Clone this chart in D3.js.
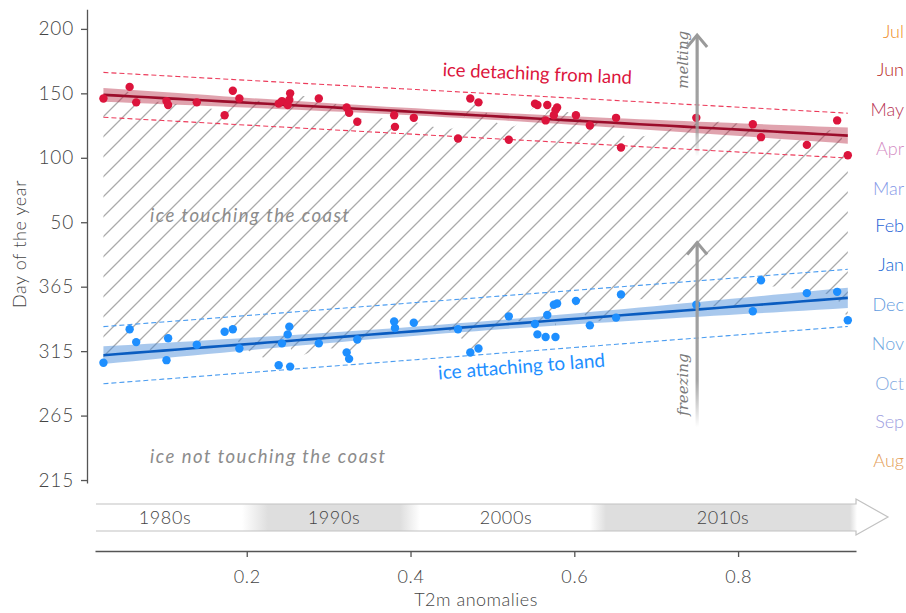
<!DOCTYPE html>
<html><head><meta charset="utf-8">
<script src="https://cdn.jsdelivr.net/npm/d3@7"></script>
<style>
html,body{margin:0;padding:0;background:#fff;}
svg{display:block;font-family:"Lato Light",Lato,"Open Sans",sans-serif;}
</style></head><body>
<svg id="chart" width="906" height="613"></svg>
<script>
// ---------------- data ----------------
const anomaly = [0.025,0.057,0.065,0.102,0.104,0.139,0.173,0.183,0.191,0.239,0.243,0.250,0.252,0.253,0.288,0.322,0.325,0.335,0.380,0.381,0.404,0.458,0.473,0.483,0.520,0.552,0.555,0.565,0.567,0.575,0.577,0.579,0.602,0.619,0.651,0.657,0.749,0.818,0.828,0.884,0.921,0.934];
const detachDay = [146,155,143,144,141,143,133,152,146,142,144,141,145,150,146,139,135,128,133,124,131,115,146,143,114,142,141,129,141,133,137,139,133,125,131,108,131,126,116,110,129,102];
const attachDay = [306,332,322,308,325,320,330,332,317,304,321,328,334,303,321,314,309,324,338,333,337,332,314,317,342,336,328,326,343,351,326,352,354,335,341,359,351,346,5,360,361,339];
const yTickValues = [215,265,315,365,415,465,515,565];
const xTickValues = [0.2,0.4,0.6,0.8];
const monthNames = ["Aug","Sep","Oct","Nov","Dec","Jan","Feb","Mar","Apr","May","Jun","Jul"];
const monthMidDay = [228,258,288,319,349,380,410,439,470,500,531,561];
const monthColors = ["#e39d58","#9e9ee0","#7fa8e0","#6ea6e0","#5f9be0","#1565d4","#1f62d6","#8499e8","#d48cc4","#b83454","#b8261c","#ee8a1e"];
const decadeLabels = ["1980s","1990s","2000s","2010s"];

// ---------------- helpers ----------------
const ext = d => d < 200 ? d + 365 : d;   // continuous day axis across new year
const svg = d3.select("#chart");
const x = d3.scaleLinear().domain([0.0147, 0.944]).range([95, 856]);
const y = d3.scaleLinear().domain([212.7, 580.2]).range([483, 9.3]);

const RED = "#dc143c", RED_D = "#9b0d2b", BLUE = "#1e8fff", BLUE_D = "#0a5cc0";

function fit(xs, ys){
  const n = xs.length, mx = d3.mean(xs), my = d3.mean(ys);
  let sxx=0, sxy=0; xs.forEach((v,i)=>{sxx+=(v-mx)**2; sxy+=(v-mx)*(ys[i]-my);});
  const b = sxy/sxx, a = my - b*mx;
  const sse = d3.sum(xs, (v,i)=> (ys[i]-(a+b*v))**2);
  const s = Math.sqrt(sse/(n-2));
  return {a,b,s,n,mx,sxx};
}
const red = fit(anomaly, detachDay.map(ext));
const blue = fit(anomaly, attachDay.map(ext));
const xr = d3.extent(anomaly);
const xs = d3.range(0,51).map(i => xr[0] + (xr[1]-xr[0])*i/50);
const T = 2.021;

const defs = svg.append("defs");
const pat = defs.append("pattern").attr("id","hatch").attr("patternUnits","userSpaceOnUse")
  .attr("width",20).attr("height",20);
pat.append("path").attr("d","M-5,5 L5,-5 M0,20 L20,0 M15,25 L25,15")
  .attr("stroke","#ababab").attr("stroke-width",1.3);

const order = d3.range(anomaly.length).sort((i,j)=>anomaly[i]-anomaly[j]);
svg.append("path")
  .datum(order)
  .attr("fill","url(#hatch)")
  .attr("d", d3.area().curve(d3.curveBasis)
      .x(i => x(anomaly[i]))
      .y0(i => y(ext(attachDay[i])))
      .y1(i => y(ext(detachDay[i]))));

function drawFit(f, colLine, colDash, bandFill, bandOpacity){
  const pred = v => f.a + f.b*v;
  const se = v => f.s*Math.sqrt(1/f.n + (v-f.mx)**2/f.sxx);
  svg.append("path").datum(xs)
    .attr("fill",bandFill).attr("opacity",bandOpacity)
    .attr("d", d3.area().x(v=>x(v)).y0(v=>y(pred(v)-T*se(v))).y1(v=>y(pred(v)+T*se(v))));
  [-1,1].forEach(sg=>{
    svg.append("path").datum(xs)
      .attr("fill","none").attr("stroke",colDash).attr("stroke-width",1.1)
      .attr("stroke-dasharray","5,3")
      .attr("d", d3.line().x(v=>x(v)).y(v=>y(pred(v)+sg*1.96*f.s)));
  });
  svg.append("path").datum(xs)
    .attr("fill","none").attr("stroke",colLine).attr("stroke-width",2.6)
    .attr("d", d3.line().x(v=>x(v)).y(v=>y(pred(v))));
}
drawFit(red, RED_D, "#ec3a5a", "#b4233f", 0.42);
drawFit(blue, BLUE_D, "#4a9cf0", "#3f86d6", 0.45);

svg.append("g").selectAll("circle").data(anomaly).join("circle")
  .attr("cx", d=>x(d)).attr("cy",(d,i)=>y(ext(detachDay[i]))).attr("r",4.2).attr("fill",RED);
svg.append("g").selectAll("circle").data(anomaly).join("circle")
  .attr("cx", d=>x(d)).attr("cy",(d,i)=>y(ext(attachDay[i]))).attr("r",4.2).attr("fill",BLUE);

// axes
const gy = svg.append("g").attr("transform","translate(87,0)")
  .call(d3.axisLeft(y).tickValues(yTickValues).tickFormat(d=> d>365? d-365 : d).tickSize(6).tickSizeOuter(0).tickPadding(7))
  .attr("font-family",null).attr("font-size",null);
gy.select(".domain").attr("stroke","#555").attr("stroke-width",1.3);
gy.selectAll(".tick line").attr("stroke","#555").attr("stroke-width",1.3);
gy.selectAll(".tick text").attr("fill","#444").attr("font-size",19).attr("letter-spacing",0.8);

const gx = svg.append("g").attr("transform","translate(0,551)")
  .call(d3.axisBottom(x).tickValues(xTickValues).tickFormat(d3.format(".1f")).tickSize(6).tickSizeOuter(0).tickPadding(13))
  .attr("font-family",null).attr("font-size",null);
gx.select(".domain").attr("stroke","#555").attr("stroke-width",1.3);
gx.selectAll(".tick line").attr("stroke","#555").attr("stroke-width",1.3);
gx.selectAll(".tick text").attr("fill","#444").attr("font-size",18).attr("letter-spacing",0.6);

svg.append("text").attr("transform","translate(26,244) rotate(-90)").attr("text-anchor","middle")
  .attr("font-size",18).attr("letter-spacing",0.6).attr("fill","#444").text("Day of the year");
svg.append("text").attr("x",476).attr("y",606).attr("text-anchor","middle")
  .attr("font-size",18).attr("letter-spacing",0.5).attr("fill","#444").text("T2m anomalies");

// month labels
svg.append("g").selectAll("text").data(monthNames).join("text")
  .attr("x",904).attr("y",(d,i)=>y(monthMidDay[i])-2).attr("dy","0.32em").attr("text-anchor","end")
  .attr("font-size",18).attr("fill",(d,i)=>monthColors[i]).text(d=>d);

// region labels
svg.append("text").attr("x",150).attr("y",222).attr("font-size",18.5).attr("font-style","italic")
  .attr("font-family","Lato").attr("fill","#8c8c8c").attr("letter-spacing",1.5).text("ice touching the coast");
svg.append("text").attr("x",150).attr("y",463).attr("font-size",18.5).attr("font-style","italic")
  .attr("font-family","Lato").attr("fill","#8c8c8c").attr("letter-spacing",1.5).text("ice not touching the coast");
svg.append("text").attr("transform","translate(537,80) rotate(2.4)").attr("text-anchor","middle")
  .attr("font-size",18.5).attr("font-family","Lato").attr("fill",RED).text("ice detaching from land");
svg.append("text").attr("transform","translate(522,373) rotate(-4.4)").attr("text-anchor","middle")
  .attr("font-size",19).attr("font-family","Lato").attr("fill",BLUE).text("ice attaching to land");

// melting / freezing arrows
function grayArrow(id, xv, dTip, dBot, label, labelDay){
  const xp = x(xv), yt = y(dTip), yb = y(dBot);
  const g = defs.append("linearGradient").attr("id",id).attr("gradientUnits","userSpaceOnUse")
    .attr("x1",0).attr("x2",0).attr("y1",yt).attr("y2",yb);
  g.append("stop").attr("offset",0).attr("stop-color","#9a9a9a").attr("stop-opacity",1);
  g.append("stop").attr("offset",0.75).attr("stop-color","#9a9a9a").attr("stop-opacity",0.9);
  g.append("stop").attr("offset",1).attr("stop-color","#9a9a9a").attr("stop-opacity",0);
  svg.append("rect").attr("x",xp-1.6).attr("y",yt+1).attr("width",3.2).attr("height",yb-yt-1).attr("fill",`url(#${id})`);
  svg.append("path").attr("d",`M${xp-10},${yt+13} L${xp},${yt+1} L${xp+10},${yt+13}`)
    .attr("fill","none").attr("stroke","#9a9a9a").attr("stroke-width",3).attr("stroke-linejoin","miter");
  svg.append("text").attr("transform",`translate(${xp-9},${y(labelDay)}) rotate(-90)`).attr("text-anchor","middle")
    .attr("font-size",15).attr("font-style","italic").attr("font-family","DejaVu Serif")
    .attr("fill","#7a7a7a").text(label);
}
grayArrow("gMelt", 0.75, 561, 466, "melting", 541);
grayArrow("gFreeze", 0.75, 400, 256, "freezing", 289);

// decade arrow
const dg = defs.append("linearGradient").attr("id","decades").attr("gradientUnits","userSpaceOnUse")
  .attr("x1",96).attr("x2",888).attr("y1",0).attr("y2",0);
const dstops = [[96,"#fff"],[242,"#fff"],[268,"#dedede"],[400,"#dedede"],[420,"#fff"],[590,"#fff"],[606,"#dedede"],[850,"#dedede"],[857,"#fff"],[888,"#fff"]];
dstops.forEach(s=>dg.append("stop").attr("offset",(s[0]-96)/(888-96)).attr("stop-color",s[1]));
svg.append("path").attr("d","M96,504 L856,504 L856,499 L888,517 L856,535 L856,531 L96,531 Z").attr("fill","url(#decades)");
svg.append("path").attr("d","M96,504 L856,504 L856,499 L888,517 L856,535 L856,531 L96,531")
  .attr("fill","none").attr("stroke","#c2c2c2").attr("stroke-width",1.2);
const decadeX = [165,334,506,723];
svg.append("g").selectAll("text").data(decadeLabels).join("text")
  .attr("x",(d,i)=>decadeX[i]).attr("y",518).attr("dy","0.35em").attr("text-anchor","middle")
  .attr("font-size",18).attr("letter-spacing",0.6).attr("fill","#444").text(d=>d);
</script>
</body></html>
